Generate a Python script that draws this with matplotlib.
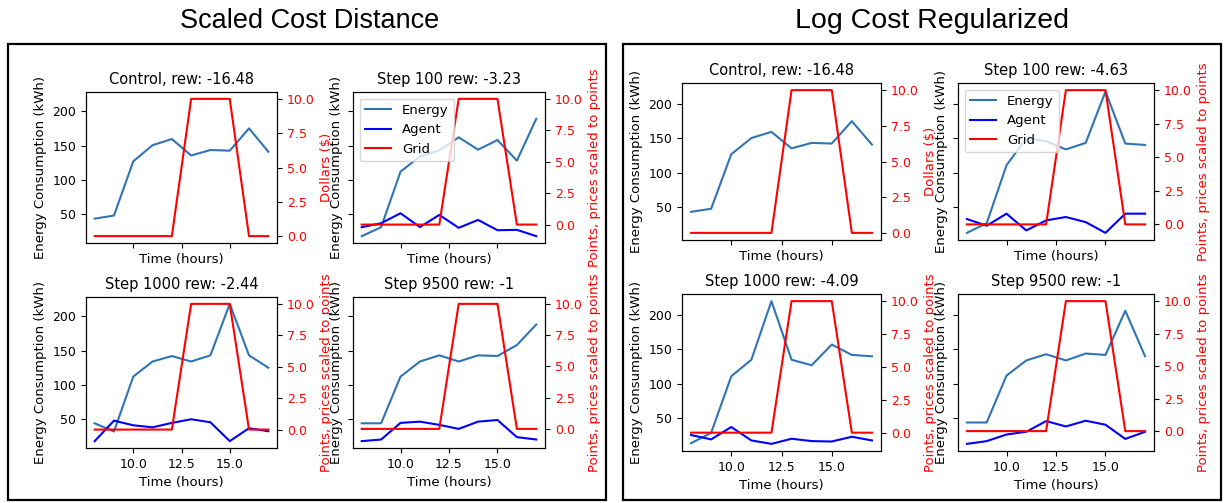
import matplotlib
matplotlib.use('Agg')
import matplotlib.pyplot as plt
from matplotlib.patches import Rectangle

W, H = 1224, 503

hours = [8, 9, 10, 11, 12, 13, 14, 15, 16, 17]
grid_price = [0, 0, 0, 0, 0, 10, 10, 10, 0, 0]
hour_ticks = [10, 12.5, 15]
price_ticks = [0, 2.5, 5, 7.5, 10]

# Scaled Cost Distance
scd_titles = ['Control, rew: -16.48', 'Step 100 rew: -3.23',
              'Step 1000 rew: -2.44', 'Step 9500 rew: -1']
scd_energy = [
    [43.5, 48, 127, 150.5, 159.5, 135.5, 143.5, 142.5, 175, 141],
    [18, 31, 112, 134, 143, 162, 144, 158, 128, 189],
    [44, 32, 112, 134, 142, 134, 143, 218, 143, 125],
    [44, 44, 112, 134, 143, 134, 143, 142, 158, 188],
]
scd_agent = [
    None,
    [-0.21, 0.11, 0.9, -0.2, 0.77, -0.26, 0.37, -0.45, -0.42, -0.92],
    [-0.92, 0.71, 0.34, 0.18, 0.53, 0.82, 0.58, -0.92, 0.11, -0.13],
    [-0.98, -0.85, 0.48, 0.58, 0.32, 0.0, 0.58, 0.71, -0.66, -0.85],
]

# Log Cost Regularized
lcr_titles = ['Control, rew: -16.48', 'Step 100 rew: -4.63',
              'Step 1000 rew: -4.09', 'Step 9500 rew: -1']
lcr_energy = [
    [43.5, 48, 127, 150.5, 159.5, 135.5, 143.5, 142.5, 175, 141],
    [13, 27, 111, 150, 146, 134, 143.5, 218, 142.5, 140.5],
    [14, 29, 111, 135, 220, 135, 127, 157, 142, 140],
    [44, 44, 112, 134, 143, 134, 144, 142, 206, 140],
]
lcr_agent = [
    None,
    [0.4, -0.1, 0.8, -0.45, 0.3, 0.55, 0.17, -0.63, 0.8, 0.8],
    [-0.18, -0.51, 0.43, -0.59, -0.85, -0.46, -0.64, -0.67, -0.31, -0.59],
    [-0.98, -0.77, -0.26, -0.05, 0.77, 0.36, 0.8, 0.49, -0.6, -0.05],
]

TICK_FS = 9
LABEL_FS = 9.5
TITLE_FS = 10.5
ENERGY_C = '#2f74b5'


def rect(x0, y0, x1, y1):
    # pixel box (top-left origin) -> figure fraction
    return [x0 / W, 1 - y1 / H, (x1 - x0) / W, (y1 - y0) / H]


def draw_panel(fig, boxes, titles, energy, agent):
    first = None
    for i, box in enumerate(boxes):
        if first is None:
            ax = fig.add_axes(rect(*box))
            first = ax
        else:
            ax = fig.add_axes(rect(*box), sharex=first, sharey=first)
        l1, = ax.plot(hours, energy[i], color=ENERGY_C, lw=1.5, label='Energy')
        ax.set_xticks(hour_ticks)
        ax.set_title(titles[i], fontsize=TITLE_FS)
        ax.set_xlabel('Time (hours)', fontsize=LABEL_FS)
        ax.set_ylabel('Energy Consumption (kWh)', fontsize=LABEL_FS)
        ax.tick_params(labelsize=TICK_FS)
        if i < 2:
            ax.tick_params(labelbottom=False)
        if i % 2 == 1:
            ax.tick_params(labelleft=False)

        ax2 = ax.twinx()
        handles = [l1]
        if agent[i] is not None:
            l2, = ax2.plot(hours, agent[i], color='blue', lw=1.5, label='Agent')
            handles.append(l2)
        l3, = ax2.plot(hours, grid_price, color='red', lw=1.5, label='Grid')
        handles.append(l3)
        ax2.set_yticks(price_ticks)
        ax2.tick_params(axis='y', labelsize=TICK_FS, labelcolor='red')
        if i == 0:
            ax2.set_ylabel('Dollars ($)', color='red', fontsize=LABEL_FS)
        else:
            ax2.set_ylabel('Points, prices scaled to points', color='red',
                           fontsize=LABEL_FS)
        if i == 1:
            ax2.legend(handles=handles, loc='upper left', fontsize=LABEL_FS)


fig = plt.figure(figsize=(W / 100, H / 100), dpi=100)

# panel frames and headings
fig.patches.append(Rectangle((8 / W, 1 - 500 / H), 598 / W, 456 / H,
                             transform=fig.transFigure, fill=False,
                             edgecolor='black', lw=1.6))
fig.patches.append(Rectangle((623 / W, 1 - 500 / H), 598 / W, 456 / H,
                             transform=fig.transFigure, fill=False,
                             edgecolor='black', lw=1.6))
fig.text(310 / W, 1 - 21 / H, 'Scaled Cost Distance', ha='center', va='center',
         fontsize=19.5, family='Liberation Sans')
fig.text(932 / W, 1 - 21 / H, 'Log Cost Regularized', ha='center', va='center',
         fontsize=20.5, family='Liberation Sans')

left_boxes = [(86, 92, 277, 243), (353, 92, 545, 243),
              (86, 297, 277, 448), (353, 297, 545, 448)]
right_boxes = [(682, 83, 881, 240), (958, 83, 1154, 240),
               (682, 294, 881, 451), (958, 294, 1154, 451)]

draw_panel(fig, left_boxes, scd_titles, scd_energy, scd_agent)
draw_panel(fig, right_boxes, lcr_titles, lcr_energy, lcr_agent)

fig.savefig('out.png', dpi=100)
